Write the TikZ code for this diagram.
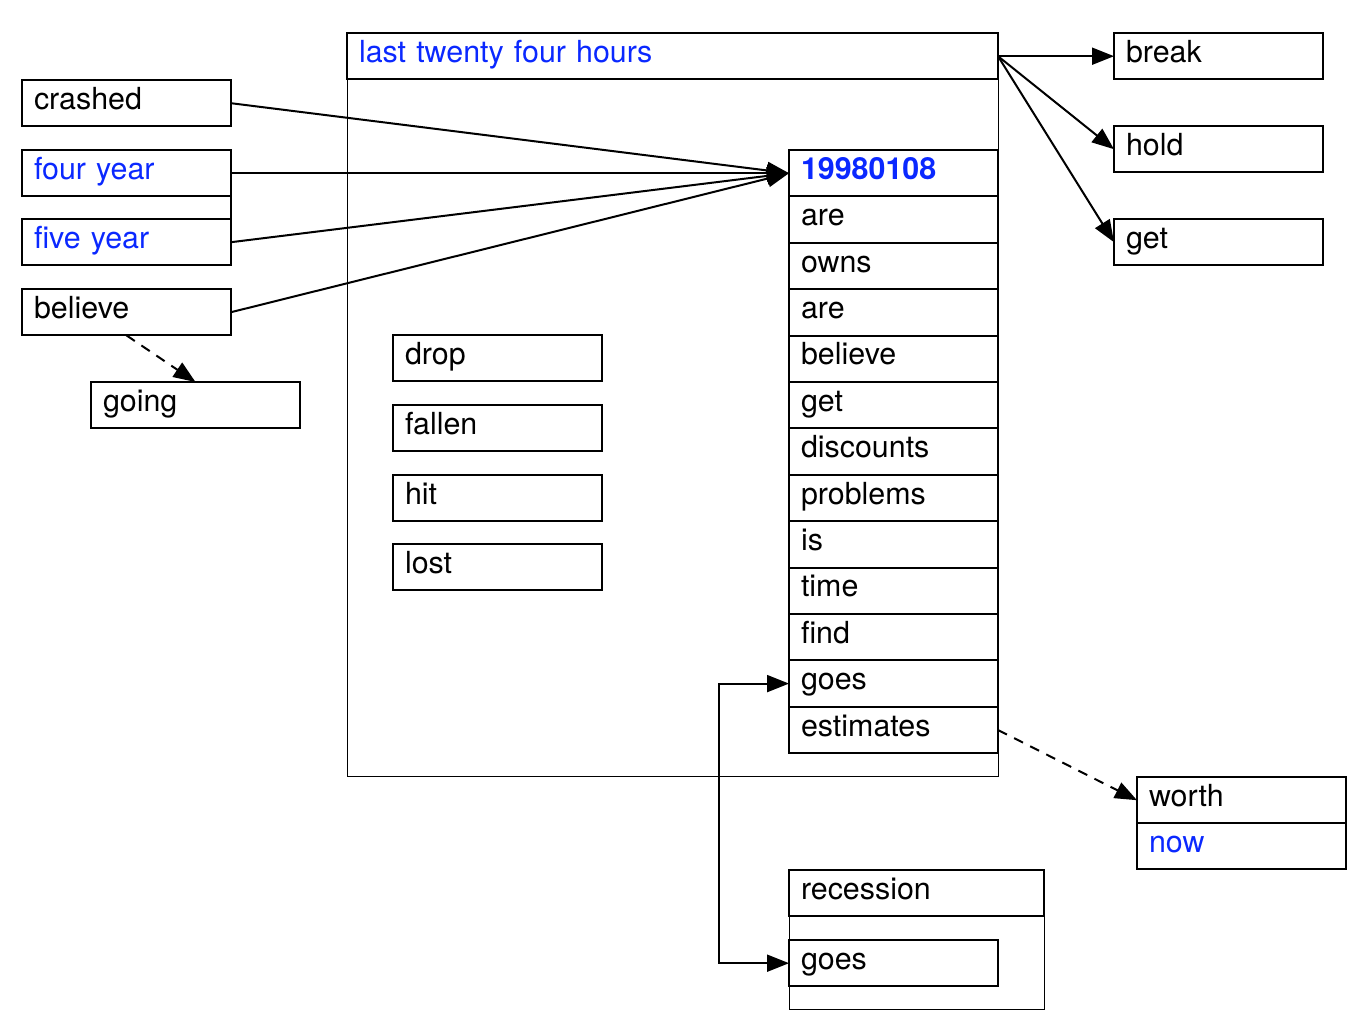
\documentclass[tikz,border=0pt]{standalone}
\usepackage{fontspec}
\setmainfont{TeX Gyre Heros}
\usetikzlibrary{arrows.meta}
\tikzset{>={Triangle[length=11pt,width=8.5pt]}}
\definecolor{wordblue}{RGB}{10,40,255}
\tikzstyle{wordbox}=[draw,line width=1pt,outer sep=0pt,minimum height=23.2pt,inner xsep=6pt,inner ysep=0pt,text width=92.5pt,align=left,anchor=north west,text height=10.5pt,text depth=4.5pt]
\tikzstyle{widebox}=[wordbox,text width=115.5pt]
\tikzstyle{headbox}=[wordbox,text width=313.5pt]
\tikzstyle{cluster}=[draw,line width=0.5pt]
\tikzstyle{link}=[draw,line width=1pt,->]
\tikzstyle{dashlink}=[link,dash pattern=on 5pt off 4pt]

\begin{document}
\begin{tikzpicture}[x=0.5pt,y=-0.5pt,font=\fontsize{15.2}{18}\selectfont]
  \useasboundingbox (0,0) rectangle (1354,1017);
  % left words
  \node[wordbox] (crashed) at (22,80) {crashed};
  \node[wordbox,text=wordblue] (fouryear) at (22,150) {four year};
  \node[wordbox,text=wordblue] (fiveyear) at (22,219) {five year};
  \node[wordbox] (believeL) at (22,289) {believe};
  \node[wordbox] (going) at (91,382) {going};

  % big cluster
  \draw[cluster] (347,33) rectangle (998,776);
  \node[headbox,text=wordblue] (hours) at (347,33) {last twenty four hours};
  \foreach \w/\y in {drop/335,fallen/405,hit/475,lost/544}
    \node[wordbox] (\w) at (393,\y) {\w};
  \node[wordbox,text=wordblue,font=\fontsize{15.2}{18}\selectfont\bfseries] (date) at (789,150) {19980108};
  \foreach \w [count=\i] in {are,owns,are,believe,get,discounts,problems,is,time,find,goes,estimates}
    \node[wordbox] (row\i) at (789,{150+46.4*\i}) {\w};

  % right words
  \node[wordbox] (brk) at (1114,33) {break};
  \node[wordbox] (hold) at (1114,126) {hold};
  \node[wordbox] (getR) at (1114,219) {get};
  \node[wordbox] (worth) at (1137,777) {worth};
  \node[wordbox,text=wordblue] (now) at (1137,823) {now};

  % recession cluster
  \draw[cluster] (789,870) rectangle (1044,1009);
  \node[widebox] (recession) at (789,870) {recession};
  \node[wordbox] (goesB) at (789,940) {goes};

  \draw[link] (crashed.east) -- (date.west);
  \draw[link] (fouryear.east) -- (date.west);
  \draw[link] (fiveyear.east) -- (date.west);
  \draw[link] (believeL.east) -- (date.west);
  \draw[line width=1pt] (fouryear.south east) -- (fiveyear.north east);
  \draw[dashlink] (believeL.south) -- (going.north);
  \draw[link] (hours.east) -- (brk.west);
  \draw[link] (hours.east) -- (hold.west);
  \draw[link] (hours.east) -- (getR.west);
  \draw[dashlink] (row12.east) -- (worth.west);
  \draw[link,<->] (row11.west) -- ++(-70,0) |- (goesB.west);
\end{tikzpicture}
\end{document}
